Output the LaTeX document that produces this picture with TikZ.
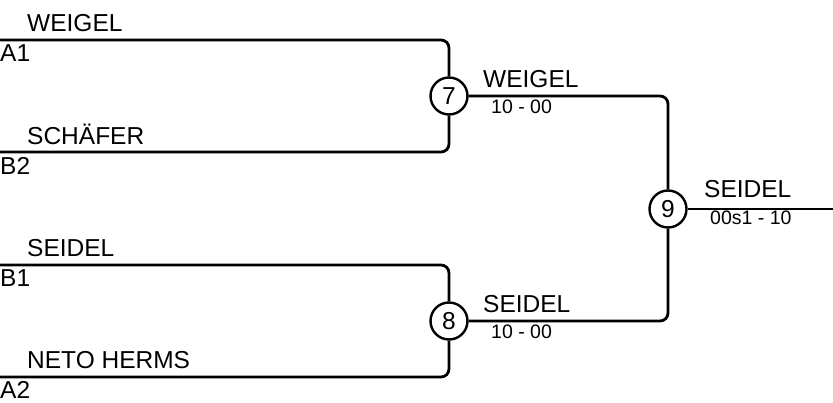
\documentclass[tikz,border=0pt]{standalone}
\usepackage{fontspec}
\setmainfont{Liberation Sans}
\begin{document}
\begin{tikzpicture}[x=1pt,y=-1pt,
    line/.style={line width=2.8pt,rounded corners=8pt},
    match/.style={circle,draw,line width=2.4pt,minimum size=37pt,inner sep=0pt,font=\fontsize{24.5}{28}\selectfont},
    player/.style={anchor=base west,inner sep=0pt,font=\fontsize{24.5}{28}\selectfont},
    score/.style={anchor=base west,inner sep=0pt,font=\fontsize{19.5}{22}\selectfont}]
\useasboundingbox (0,0) rectangle (833,403);
% first round
\coordinate (a1) at (0,40);
\coordinate (b2) at (0,152);
\coordinate (b1) at (0,265);
\coordinate (a2) at (0,377);
\node[match] (m7) at (449,96) {7};
\node[match] (m8) at (449,321) {8};
\node[match] (m9) at (668,209) {9};
\coordinate (fin) at (833,209);
\draw[line] (a1) -| (m7);
\draw[line] (b2) -| (m7);
\draw[line] (b1) -| (m8);
\draw[line] (a2) -| (m8);
% final
\draw[line] (m7) -| (m9);
\draw[line] (m8) -| (m9);
\draw[line] (m9) -- (fin);
\node[player] (pweigel) at (27,32) {WEIGEL};
\node[player] (pa1) at (0,62) {A1};
\node[player] (pschaefer) at (27,145) {SCHÄFER};
\node[player] (pb2) at (0,175) {B2};
\node[player] (pseidel) at (27,257) {SEIDEL};
\node[player] (pb1) at (0,287) {B1};
\node[player] (pneto) at (27,369) {NETO HERMS};
\node[player] (pa2) at (0,399) {A2};
\node[player] (w7) at (483,88) {WEIGEL};
\node[score] (s7) at (491,114) {10 - 00};
\node[player] (w8) at (483,313) {SEIDEL};
\node[score] (s8) at (491,339) {10 - 00};
\node[player] (w9) at (704,198) {SEIDEL};
\node[score] (s9) at (710,225) {00s1 - 10};
\end{tikzpicture}
\end{document}
